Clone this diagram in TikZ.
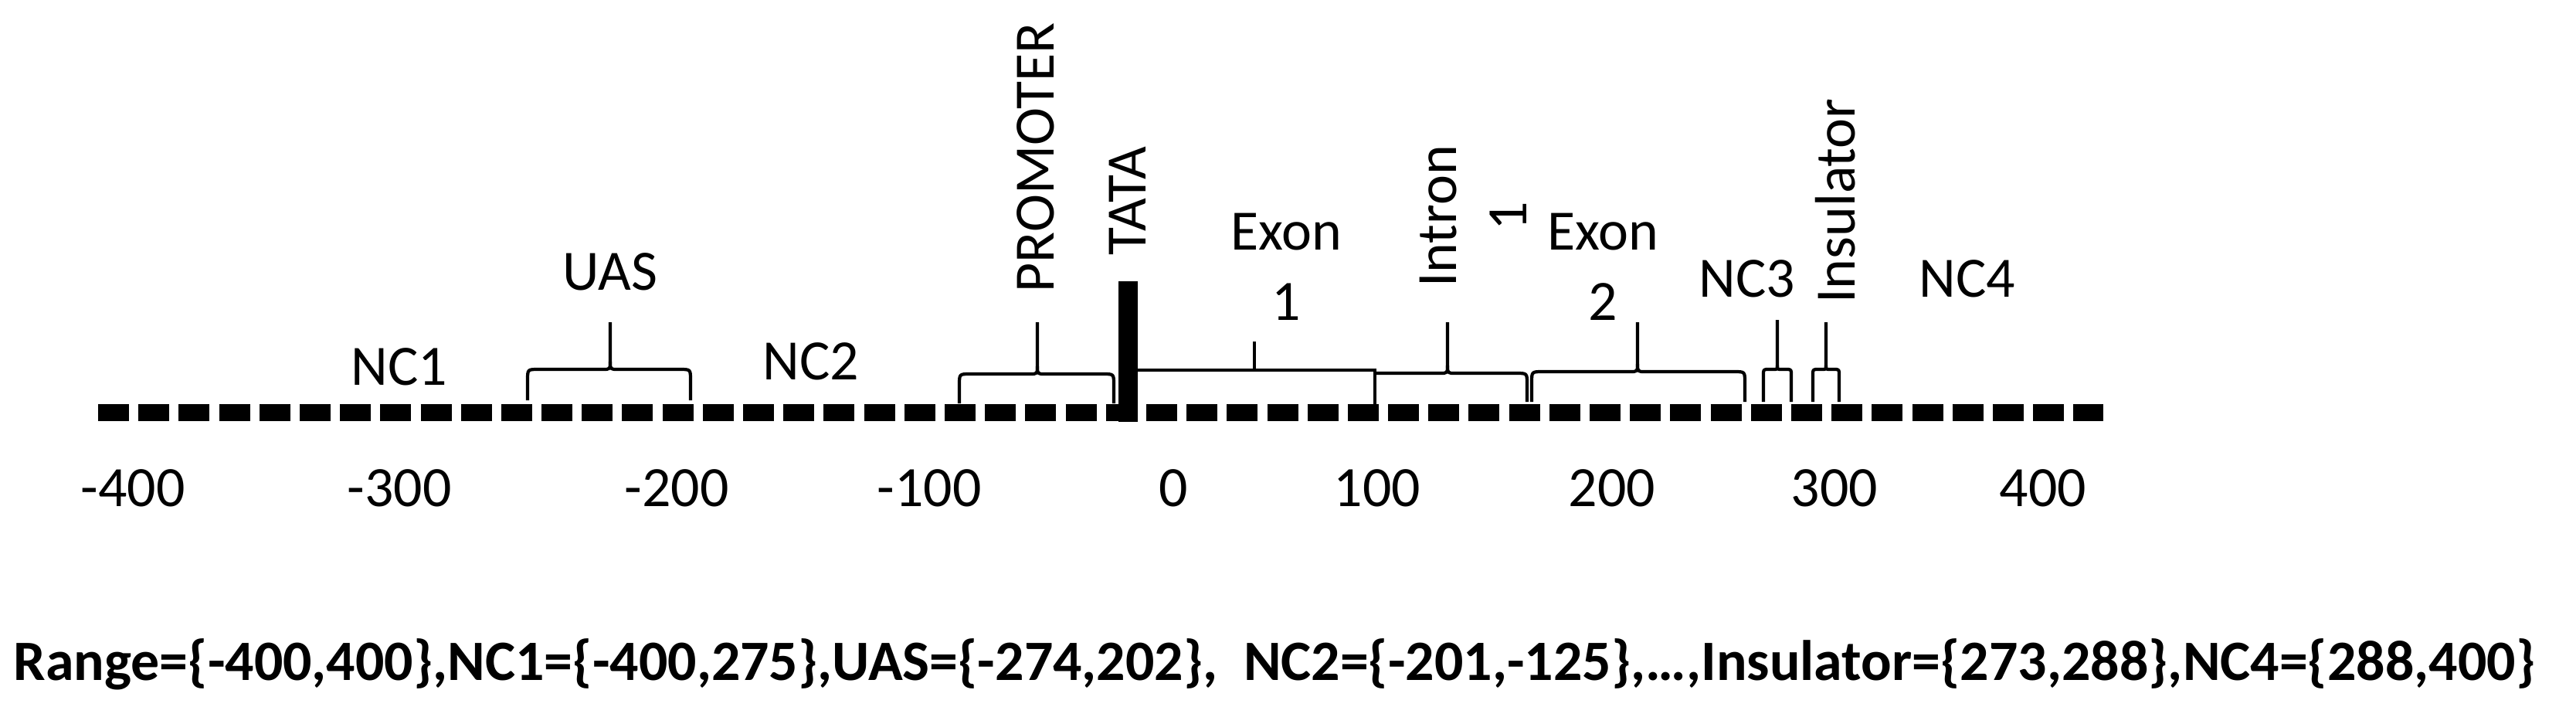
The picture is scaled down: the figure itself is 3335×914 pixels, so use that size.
\documentclass[tikz,border=0pt]{standalone}
\usepackage{fontspec}
\setmainfont{Carlito}
\newcommand\gbr[8]{% xl, xm, xr, ytop, yh, ybot, corner, cusp
  \draw[brk] (#1,#6) -- (#1,#5+#7) .. controls (#1,#5) .. (#1+#7,#5) -- (#2-#8,#5) .. controls (#2,#5) .. (#2,#5-#8) -- (#2,#4);
  \draw[brk] (#3,#6) -- (#3,#5+#7) .. controls (#3,#5) .. (#3-#7,#5) -- (#2+#8,#5) .. controls (#2,#5) .. (#2,#5-#8);
}
\begin{document}
\begin{tikzpicture}[x=0.01cm,y=-0.01cm,
  lbl/.style={font=\fontsize{21}{26}\selectfont, inner sep=0pt, anchor=base},
  lbltwo/.style={font=\fontsize{21}{26}\selectfont, inner sep=0pt, align=center},
  brk/.style={line width=1.2pt, line join=round},
  exl/.style={line width=1.4pt},
  axisline/.style={line width=0.22cm, dash pattern=on 0.40cm off 0.1216cm}]
\useasboundingbox (0,0) rectangle (3335,914);
% axis
\coordinate (a0) at (127,534);
\coordinate (a1) at (2723,534);
\draw[axisline] (a0) -- (a1);
% TATA bar
\node[fill=black, inner sep=0pt, minimum width=0.25cm, minimum height=1.82cm, anchor=north west] (tatabar) at (1447,363) {};
% brackets
\gbr{683}{790}{894}{417}{478}{518}{14}{10}
\gbr{1242}{1343}{1442}{417}{484}{522}{14}{10}
\draw[exl] (tatabar.east |- 0,479) -- (1780,479) -- (1780,523);
\draw[exl] (1624,479) -- (1624,442);
\draw[brk] (1780,483) -- (1864,483) .. controls (1874,483) .. (1874,473) -- (1874,417);
\draw[brk] (1977,520) -- (1977,497) .. controls (1977,483) .. (1963,483) -- (1884,483) .. controls (1874,483) .. (1874,473);
\gbr{1983}{2120}{2259}{417}{481}{520}{14}{10}
\gbr{2283}{2301}{2319}{414}{478}{520}{7}{5}
\gbr{2347}{2364}{2381}{417}{478}{520}{7}{5}
% labels
\node[lbl] (nc1) at (517,498) {NC1};
\node[lbl] (uas) at (790,375) {UAS};
\node[lbl] (nc2) at (1050,491) {NC2};
\node[lbl, rotate=90] (prom) at (1364,204) {PROMOTER};
\node[lbl, rotate=90] (tata) at (1483,260) {TATA};
\node[lbltwo, anchor=north] (exon1) at (1665,275) {Exon\\1};
\node[lbltwo, rotate=90, anchor=north] (intron) at (1837,280) {Intron\\1};
\node[lbltwo, anchor=north] (exon2) at (2075,275) {Exon\\2};
\node[lbl] (nc3) at (2262,384) {NC3};
\node[lbl, rotate=90] (ins) at (2401,260) {Insulator};
\node[lbl] (nc4) at (2547,384) {NC4};
% tick labels
\foreach \v/\x [count=\i] in {-400/172,-300/517,-200/876,-100/1203,0/1519,100/1783,200/2087,300/2375,400/2645}
  \node[lbl] (tick\i) at (\x,655) {\v};
% bottom line
\node[font=\bfseries\fontsize{21}{26}\selectfont, inner sep=0pt, anchor=base west] (range) at (17,880)
  {Range=\{-400,400\},NC1=\{-400,275\},UAS=\{-274,202\}, \ NC2=\{-201,-125\},…,Insulator=\{273,288\},NC4=\{288,400\}};
\end{tikzpicture}
\end{document}
